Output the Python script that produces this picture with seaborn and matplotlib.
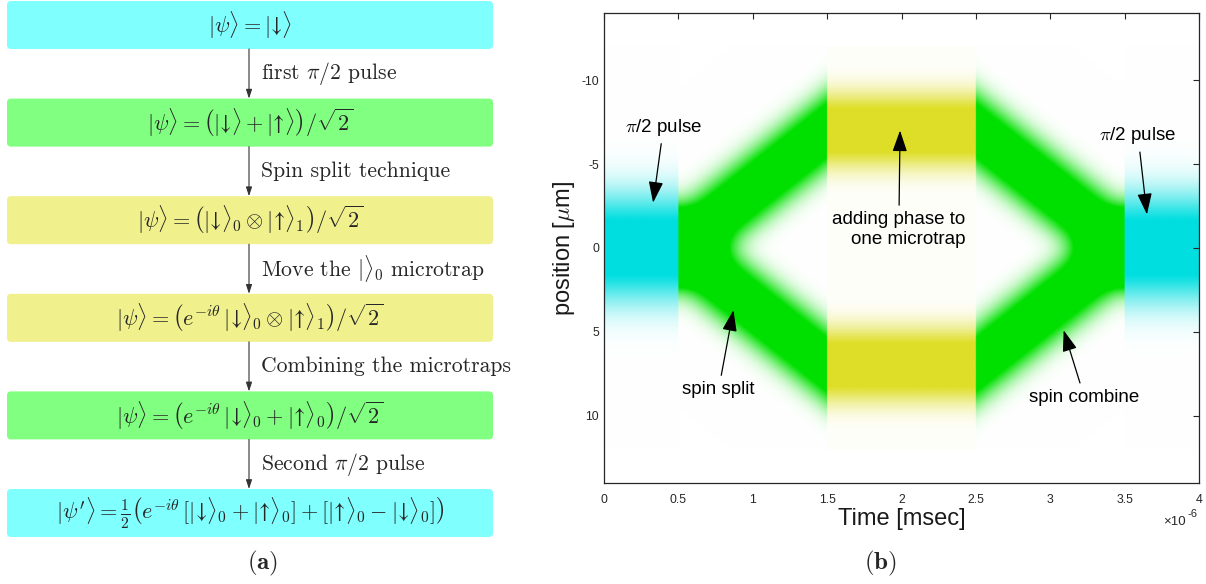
import numpy as np
import matplotlib
matplotlib.use("Agg")
import matplotlib.pyplot as plt
import seaborn as sns
from matplotlib.patches import FancyBboxPatch
from matplotlib.colors import to_rgb
from matplotlib.ticker import FuncFormatter

# ---- data: left panel (state sequence) ----
state_labels = [
    r"$|\psi\rangle = |↓\rangle$",
    r"$|\psi\rangle = \left(|↓\rangle + |↑\rangle\right)/\sqrt{2}$",
    r"$|\psi\rangle = \left(|↓\rangle_0 \otimes |↑\rangle_1\right)/\sqrt{2}$",
    r"$|\psi\rangle = \left(e^{-i\theta}\,|↓\rangle_0 \otimes |↑\rangle_1\right)/\sqrt{2}$",
    r"$|\psi\rangle = \left(e^{-i\theta}\,|↓\rangle_0 + |↑\rangle_0\right)/\sqrt{2}$",
    r"$|\psi'\rangle = \frac{1}{2}\left(e^{-i\theta}\,[|↓\rangle_0 + |↑\rangle_0] + [|↑\rangle_0 - |↓\rangle_0]\right)$",
]
state_colors = ["#80FFFF", "#80FF80", "#F0F08C", "#F0F08C", "#80FF80", "#80FFFF"]
step_labels = [
    r"first $\pi/2$ pulse",
    "Spin split technique",
    r"Move the $|\rangle_0$ microtrap",
    "Combining the microtraps",
    r"Second $\pi/2$ pulse",
]

# ---- data: right panel (wave packet) ----
stage_edges = [0.0, 0.5, 1.5, 2.5, 3.5, 4.0]      # time, x1e-6
stage_colors = ["#00DEE0", "#00E000", "#DEDE28", "#00E000", "#00DEE0"]
stage_width = [3.2, 2.3, 2.2, 2.3, 3.2]
stage_amp = [0.6, 1.5, 1.3, 1.5, 0.6]
stage_floor = [0.0, 0.0, 0.025, 0.0, 0.0]
# offset of the two packets from the centre (um)
path_t = [0.0, 0.5, 1.5, 2.5, 3.5, 4.0]
path_c = [0.0, 0.0, 7.0, 7.0, 0.0, 0.0]

annot_text = [r"$\pi$/2 pulse", r"$\pi$/2 pulse", "adding phase to\none microtrap",
              "spin split", "spin combine"]
annot_xy = [(0.33, -2.7), (3.65, -2.0), (1.99, -7.0), (0.87, 3.7), (3.09, 4.9)]
annot_xytext = [(0.40, -7.2), (3.59, -6.7), (2.43, -1.1), (0.77, 8.45), (3.23, 8.9)]
annot_ha = ["center", "center", "right", "center", "center"]

sns.set_theme(style="white")
plt.rcParams['font.family'] = ['Liberation Sans', 'DejaVu Sans']
plt.rcParams['mathtext.fontset'] = 'cm'

fig = plt.figure(figsize=(12.06, 5.84), dpi=100)

# ---- left panel: flow chart, pixel coordinates ----
axl = fig.add_axes([0, 0, 520 / 1206, 1])
axl.set_xlim(0, 520)
axl.set_ylim(584, 0)
axl.axis('off')

box_h = 48
step = 97.6
for i, (lab, col) in enumerate(zip(state_labels, state_colors)):
    top = 1 + i * step
    axl.add_patch(FancyBboxPatch((7, top), 486, box_h,
                                 boxstyle="round,pad=0,rounding_size=4",
                                 fc=col, ec='none'))
    axl.text(250, top + box_h / 2, lab, ha='center', va='center', fontsize=16)

for i, lab in enumerate(step_labels):
    y0 = 1 + i * step + box_h
    y1 = 1 + (i + 1) * step
    axl.annotate("", xy=(249, y1), xytext=(249, y0),
                 arrowprops=dict(arrowstyle='-|>,head_length=0.45,head_width=0.15',
                                 color='#333333', lw=0.8, shrinkA=0, shrinkB=0))
    axl.text(261, (y0 + y1) / 2, lab, ha='left', va='center', fontsize=15.6,
             family='cmr10')

fig.text(263 / 1206, 1 - 563 / 584, r"$\mathbf{(a)}$", ha='center', va='center',
         fontsize=18)
fig.text(880 / 1206, 1 - 563 / 584, r"$\mathbf{(b)}$", ha='center', va='center',
         fontsize=18)

# ---- right panel: wave packet image ----
ax = fig.add_axes([604 / 1206, 1 - 483 / 584, 595 / 1206, 470 / 584])

t = np.linspace(0, 4, 1400)
y = np.linspace(-12, 12, 601)
T, Y = np.meshgrid(t, y)
C = np.interp(T, path_t, path_c)
rgb = np.ones(T.shape + (3,))
for i in range(len(stage_colors)):
    m = (T >= stage_edges[i]) & (T <= stage_edges[i + 1])
    a = stage_width[i]
    inten = stage_amp[i] * (np.exp(-np.abs((Y - C) / a) ** 2.5) +
                            np.exp(-np.abs((Y + C) / a) ** 2.5))
    inten = np.clip(inten, stage_floor[i], 1)
    col = np.array(to_rgb(stage_colors[i]))
    rgb[m] = 1 - inten[m][:, None] * (1 - col)

ax.imshow(rgb, extent=[0, 4, 12, -12], aspect='auto', interpolation='bilinear')
ax.set_xlim(0, 4)
ax.set_ylim(14, -14)
ax.set_xticks(np.arange(0, 4.01, 0.5))
ax.set_yticks([-10, -5, 0, 5, 10])
fmt = FuncFormatter(lambda v, p: f"{v:g}")
ax.xaxis.set_major_formatter(fmt)
ax.yaxis.set_major_formatter(fmt)
ax.tick_params(direction='in', top=True, right=True, length=4.5, width=0.8,
               colors='#262626', labelsize=8.8)
ax.tick_params(axis='x', pad=8)
ax.tick_params(axis='y', pad=3.5)
for s in ax.spines.values():
    s.set_color('#262626')
    s.set_linewidth(0.9)

ax.set_xlabel("Time [msec]", fontsize=17, color='#1a1a1a', labelpad=1)
ax.set_ylabel(r"position [$\mu$m]", fontsize=17, color='#1a1a1a', labelpad=3)

fig.text(1186 / 1206, 1 - 522 / 584, "×10", ha='right', va='center',
         fontsize=9.5, color='#262626')
fig.text(1187 / 1206, 1 - 514 / 584, "-6", ha='left', va='center',
         fontsize=8, color='#262626')

for txt, xy, xyt, ha in zip(annot_text, annot_xy, annot_xytext, annot_ha):
    ax.annotate(txt, xy=xy, xytext=xyt, ha=ha, va='center', fontsize=13.5,
                color='black',
                arrowprops=dict(arrowstyle='-|>,head_length=1.3,head_width=0.45',
                                color='black', lw=0.9, mutation_scale=10,
                                shrinkA=2, shrinkB=0))

fig.savefig("out.png", dpi=100)
